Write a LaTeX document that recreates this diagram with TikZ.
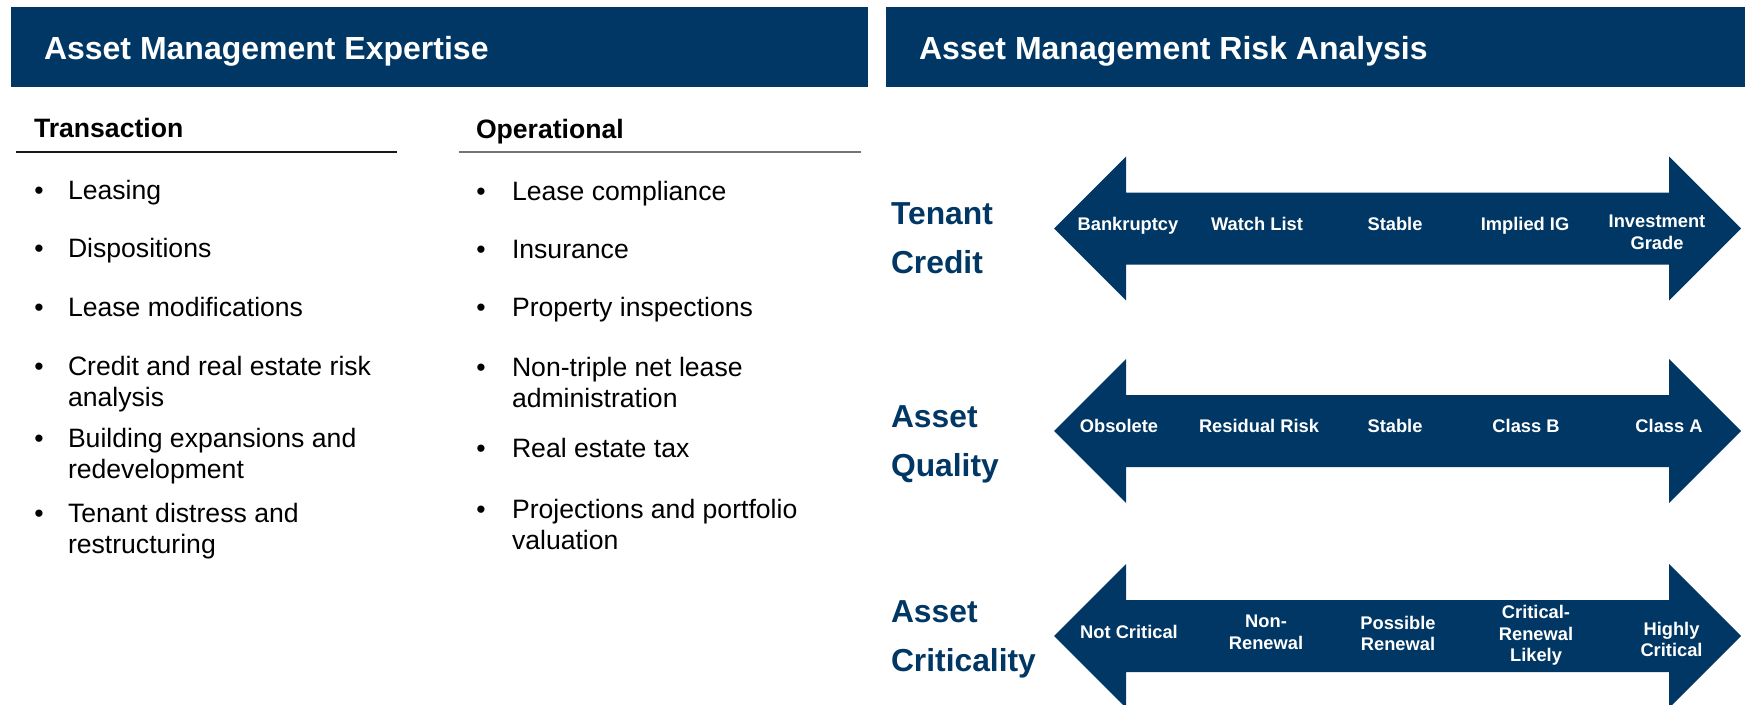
\documentclass[tikz,border=0pt]{standalone}
\usepackage{fontspec}
\setmainfont{Liberation Sans}
\definecolor{navy}{HTML}{003764}
\newcommand\itmbox[1]{\parbox[t]{340pt}{\raggedright #1}}
\newcommand\lblbox[1]{\parbox[t]{130pt}{\centering #1}}
\begin{document}
\begin{tikzpicture}[x=1pt,y=-1pt,
  every node/.style={inner sep=0pt, outer sep=0pt},
  hdrbox/.style={fill=navy, anchor=north west, minimum height=80pt},
  hdrtext/.style={anchor=base west, text=white, font=\fontsize{32}{38}\selectfont\bfseries},
  subhdr/.style={anchor=base west, font=\fontsize{26.6}{32}\selectfont\bfseries},
  bul/.style={anchor=base, font=\fontsize{26.6}{31}\selectfont},
  item/.style={anchor=base west, font=\fontsize{26.6}{31}\selectfont},
  side/.style={anchor=base west, text=navy, font=\fontsize{31.8}{49}\selectfont\bfseries},
  lbl/.style={anchor=base, text=white, font=\fontsize{18.3}{21.5}\selectfont\bfseries},
  riskarrow/.style={fill=navy},
  rulea/.style={line width=1.5pt, black!90},
  ruleb/.style={line width=1.5pt, black!55}
]
\useasboundingbox (0,0) rectangle (1747,704);
\fill[white] (0,0) rectangle (1747,704);

% headers
\node[hdrbox, minimum width=857pt] (hL) at (11,7) {};
\node[hdrbox, minimum width=859pt] (hR) at (886,7) {};
\node[hdrtext] (hLt) at (44,59) {Asset Management Expertise};
\node[hdrtext] (hRt) at (919,59) {Asset Management Risk Analysis};

% sub headers
\node[subhdr] (trans) at (34,137.5) {Transaction};
\node[subhdr] (oper) at (476,138.5) {Operational};
\coordinate (tu1) at (16,152);
\coordinate (tu2) at (397,152);
\coordinate (ou1) at (459,152);
\coordinate (ou2) at (861,152);
\draw[rulea] (tu1) -- (tu2);
\draw[ruleb] (ou1) -- (ou2);

% left column
\node[bul] (lb1) at (39,199.5) {•};
\node[item] (li1) at (68,199.5) {\itmbox{Leasing}};
\node[bul] (lb2) at (39,257) {•};
\node[item] (li2) at (68,257) {\itmbox{Dispositions}};
\node[bul] (lb3) at (39,316) {•};
\node[item] (li3) at (68,316) {\itmbox{Lease modifications}};
\node[bul] (lb4) at (39,375) {•};
\node[item] (li4) at (68,375) {\itmbox{Credit and real estate risk\\analysis}};
\node[bul] (lb5) at (39,447) {•};
\node[item] (li5) at (68,447) {\itmbox{Building expansions and\\redevelopment}};
\node[bul] (lb6) at (39,522) {•};
\node[item] (li6) at (68,522) {\itmbox{Tenant distress and\\restructuring}};

% right column
\node[bul] (rb1) at (481,200) {•};
\node[item] (ri1) at (512,200) {\itmbox{Lease compliance}};
\node[bul] (rb2) at (481,258.3) {•};
\node[item] (ri2) at (512,258.3) {\itmbox{Insurance}};
\node[bul] (rb3) at (481,316.7) {•};
\node[item] (ri3) at (512,316.7) {\itmbox{Property inspections}};
\node[bul] (rb4) at (481,376.5) {•};
\node[item] (ri4) at (512,376.5) {\itmbox{Non-triple net lease\\administration}};
\node[bul] (rb5) at (481,457.7) {•};
\node[item] (ri5) at (512,457.7) {\itmbox{Real estate tax}};
\node[bul] (rb6) at (481,518.3) {•};
\node[item] (ri6) at (512,518.3) {\itmbox{Projections and portfolio\\valuation}};

% risk arrows
\foreach \cy/\nm in {228.5/a1, 431/a2, 636/a3}{
  \fill[riskarrow] (1054,\cy) -- (1126,\cy-72) -- (1126,\cy-36) -- (1669,\cy-36)
    -- (1669,\cy-72) -- (1741,\cy) -- (1669,\cy+72) -- (1669,\cy+36)
    -- (1126,\cy+36) -- (1126,\cy+72) -- cycle;
}

% side labels
\node[side] (tc) at (891,224.5) {\parbox[t]{170pt}{Tenant\\Credit}};
\node[side] (aq) at (891,427) {\parbox[t]{170pt}{Asset\\Quality}};
\node[side] (ac) at (891,622.5) {\parbox[t]{170pt}{Asset\\Criticality}};

% arrow 1 labels
\node[lbl] (l11) at (1128,230) {\lblbox{Bankruptcy}};
\node[lbl] (l12) at (1257,230) {\lblbox{Watch List}};
\node[lbl] (l13) at (1395,230) {\lblbox{Stable}};
\node[lbl] (l14) at (1525,230) {\lblbox{Implied IG}};
\node[lbl] (l15) at (1657,227.5) {\lblbox{Investment\\Grade}};

% arrow 2 labels
\node[lbl] (l21) at (1119,432.5) {\lblbox{Obsolete}};
\node[lbl] (l22) at (1259,432.5) {\lblbox{Residual Risk}};
\node[lbl] (l23) at (1395,432.5) {\lblbox{Stable}};
\node[lbl] (l24) at (1526,432.5) {\lblbox{Class B}};
\node[lbl] (l25) at (1669,432.5) {\lblbox{Class A}};

% arrow 3 labels
\node[lbl] (l31) at (1129,638.5) {\lblbox{Not Critical}};
\node[lbl] (l32) at (1266,627.5) {\lblbox{Non-\\Renewal}};
\node[lbl] (l33) at (1398,629) {\lblbox{Possible\\Renewal}};
\node[lbl] (l34) at (1536,618.5) {\lblbox{Critical-\\Renewal\\Likely}};
\node[lbl] (l35) at (1671.5,635) {\lblbox{Highly\\Critical}};
\end{tikzpicture}
\end{document}
